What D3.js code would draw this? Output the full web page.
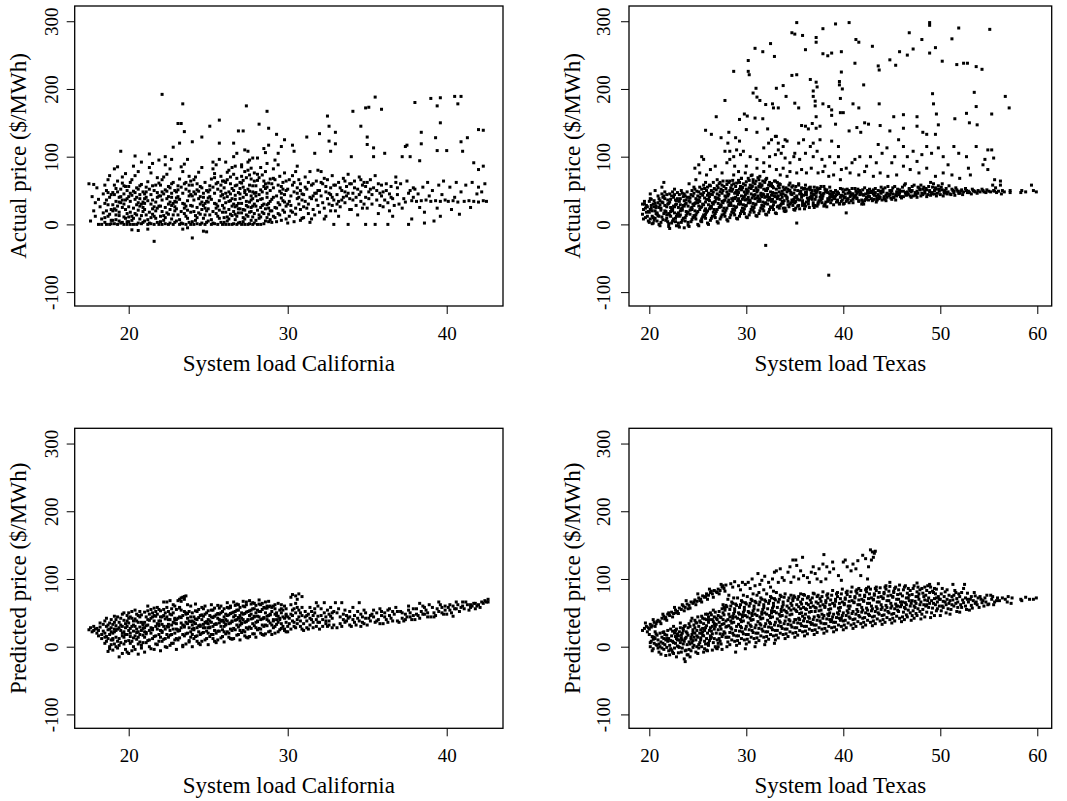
<!DOCTYPE html>
<html><head><meta charset="utf-8">
<script src="https://cdn.jsdelivr.net/npm/d3@7"></script>
<style>body{margin:0;background:#fff}svg{display:block}</style>
</head><body><svg id="c" width="1067" height="801"></svg>
<script>
const caTicks=[20,30,40];
const txTicks=[20,30,40,50,60];
const priceTicks=[-100,0,100,200,300];
const caLabel="System load California", txLabel="System load Texas";
const actLabel="Actual price ($/MWh)", predLabel="Predicted price ($/MWh)";
// Point arrays: flattened pairs [system load in tenths, price $/MWh]
const caActual=[
175,60,178,59,177,41,179,32,176,5,180,54,178,20,179,12,181,0,183,0,182,26,184,45,183,8,181,37,184,17,
186,0,188,0,185,3,187,12,189,22,185,31,188,40,186,50,189,6,187,29,185,58,188,15,186,36,189,44,187,66,188,72,186,20,189,1,185,10,187,47,
193,0,197,0,191,1,199,0,195,2,190,6,198,9,192,14,196,3,194,18,191,23,197,11,193,27,199,16,195,32,190,20,198,36,192,7,196,25,194,40,191,44,197,30,193,48,199,38,195,52,190,29,198,56,192,34,196,61,194,13,191,58,197,45,193,64,199,50,195,41,190,47,198,22,192,53,196,70,194,5,195,108,191,82,198,75,193,85,196,36,199,4,192,21,197,57,194,33,
201,0,205,0,208,1,203,0,200,4,207,8,202,12,209,3,204,16,206,21,200,26,203,9,208,30,201,34,205,14,207,38,202,43,209,19,204,47,206,52,200,56,203,24,208,59,201,62,205,29,207,44,202,6,209,33,204,37,206,2,200,41,203,49,208,13,201,18,205,54,207,27,202,66,209,48,204,72,206,78,203,86,208,92,204,101,202,-8,206,-9,205,40,200,11,207,57,209,25,201,46,206,32,
212,0,216,0,219,0,214,1,210,5,217,9,211,14,218,3,213,18,215,23,219,27,210,31,216,12,212,35,218,40,214,44,211,48,217,20,213,52,215,57,219,61,210,38,216,26,212,7,218,47,214,30,211,55,217,33,213,2,215,15,219,42,210,22,216,50,212,63,218,69,214,76,213,84,215,90,213,104,216,-25,212,-7,219,95,211,40,217,58,214,10,218,24,210,45,215,36,
221,0,225,0,228,0,223,1,220,4,227,8,222,13,229,3,224,17,226,22,220,27,223,10,228,31,221,36,225,15,227,40,222,45,229,20,224,49,226,54,220,58,223,25,228,62,221,66,225,30,227,46,222,6,229,34,224,38,226,2,220,42,223,51,228,14,221,19,225,56,227,28,222,70,229,50,224,74,226,82,223,88,227,96,221,192,223,100,228,114,225,41,220,12,227,60,229,26,221,48,226,33,
232,0,236,0,239,0,234,1,230,5,237,9,231,14,238,3,233,19,235,24,239,28,230,33,236,12,232,37,238,42,234,46,231,51,237,21,233,55,235,60,239,64,230,39,236,27,232,7,238,49,234,31,231,57,237,35,233,2,235,16,239,44,230,23,236,52,232,67,238,71,234,78,233,85,235,89,237,96,232,120,234,178,231,149,233,149,235,137,234,-7,237,-5,231,41,236,62,239,18,230,48,235,30,238,58,
241,0,245,0,248,0,243,1,240,4,247,9,242,13,249,3,244,17,246,22,240,27,243,10,248,31,241,36,245,15,247,40,242,45,249,20,244,49,246,54,240,58,243,25,248,62,241,66,245,30,247,46,242,6,249,34,244,38,246,2,240,42,243,51,248,14,241,19,245,56,247,28,242,70,249,50,244,77,246,84,240,122,246,129,240,-20,249,-11,247,-10,245,41,243,60,248,24,241,48,246,33,
252,0,256,0,259,0,254,1,250,5,257,9,251,14,258,3,253,19,255,24,259,28,250,33,256,12,252,37,258,42,254,46,251,51,257,21,253,55,255,60,259,64,250,39,256,27,252,7,258,49,254,31,251,57,257,35,253,2,255,16,259,44,250,23,256,52,252,67,258,71,254,75,253,82,255,88,257,96,251,145,257,154,257,120,253,92,251,41,256,62,259,18,250,48,255,30,258,58,254,69,
261,0,265,0,268,0,263,0,260,3,267,7,262,11,269,2,264,15,266,19,260,24,263,8,268,28,261,32,265,13,267,37,262,41,269,17,264,45,266,50,260,54,263,22,268,58,261,62,265,27,267,43,262,5,269,31,264,35,266,1,260,39,263,48,268,12,261,18,265,53,267,26,262,66,269,47,264,70,266,74,263,80,267,86,261,92,266,100,268,105,266,120,269,138,265,38,260,10,267,57,269,23,261,46,266,30,264,60,262,77,268,68,263,34,265,84,260,64,267,15,
271,0,275,0,278,0,273,0,270,3,277,6,272,10,279,2,274,14,276,18,270,23,273,8,278,27,271,31,275,12,277,36,272,40,279,16,274,44,276,49,270,53,273,21,278,57,271,61,275,26,277,42,272,4,279,30,274,34,276,1,270,38,273,47,278,11,271,17,275,52,277,25,272,65,279,46,274,69,276,73,273,78,277,83,271,88,275,92,278,98,273,110,275,108,272,138,274,175,270,45,276,58,279,64,271,71,275,80,278,38,272,55,277,67,274,28,276,33,270,62,279,76,273,50,277,19,271,85,276,95,278,48,272,22,
281,0,285,1,288,4,283,0,280,6,287,10,282,14,289,7,284,18,286,23,280,27,283,11,288,31,281,35,285,16,287,40,282,44,289,20,284,48,286,53,280,57,283,25,288,61,281,65,285,30,287,46,282,9,289,34,284,38,286,5,280,42,283,51,288,15,281,21,285,56,287,29,282,69,289,50,284,73,286,78,283,84,287,90,281,98,286,106,288,117,282,148,287,167,288,142,285,112,280,47,286,60,289,67,281,74,284,28,287,55,283,37,288,24,285,64,
290,3,293,4,296,6,299,8,291,12,294,16,297,21,292,25,295,29,298,33,290,37,293,42,296,46,299,50,291,54,294,58,297,62,292,66,295,71,298,76,291,82,294,88,292,95,294,105,293,133,298,125,296,115,290,20,295,14,297,35,299,27,291,40,296,56,293,24,298,44,290,60,295,49,292,10,297,52,294,32,299,64,296,39,291,68,298,18,
300,2,304,4,308,6,301,12,303,18,305,24,307,30,309,36,302,42,304,48,306,54,308,60,301,66,303,72,305,78,303,117,304,108,306,86,302,28,306,38,309,45,300,52,305,15,308,22,303,58,307,66,301,34,309,9,306,46,302,20,307,40,300,30,304,62,308,50,
310,10,313,16,316,22,319,28,311,34,314,40,317,46,312,52,315,58,318,64,311,70,314,78,312,129,317,105,315,8,318,36,310,44,313,30,316,60,319,50,312,24,317,14,314,3,319,80,316,42,311,55,318,46,313,62,315,38,310,26,
320,134,325,160,326,145,326,123,327,108,320,18,323,24,326,30,329,36,321,42,324,48,327,54,322,60,325,66,328,72,321,78,329,0,324,12,328,40,322,32,326,46,329,58,323,8,327,20,320,50,325,38,328,28,321,62,324,56,327,44,323,68,
330,136,330,119,330,20,333,26,336,32,339,38,331,44,334,50,337,56,332,62,335,68,338,74,338,0,334,36,337,42,331,30,339,60,332,12,336,48,339,22,333,54,335,40,338,46,330,58,336,64,332,34,
341,167,346,145,349,172,340,100,340,22,343,28,346,34,349,40,341,46,344,52,347,58,342,64,345,70,348,30,349,0,343,40,346,48,341,36,348,62,344,14,347,24,342,54,345,44,349,56,340,60,346,66,
351,173,355,188,359,170,350,129,350,118,354,113,354,100,350,24,353,30,356,36,359,42,351,48,354,54,357,60,352,66,355,0,358,28,351,38,356,50,359,58,353,44,357,16,355,72,352,52,358,46,350,62,
361,105,363,0,360,26,363,32,366,38,369,44,362,50,365,56,368,62,361,36,364,45,367,28,369,54,364,20,368,70,366,12,360,48,365,40,362,60,
372,100,374,115,375,117,377,100,376,0,378,8,370,30,373,38,376,46,379,54,371,60,374,33,378,35,372,24,375,64,379,40,377,50,
380,180,384,136,384,119,383,94,386,2,381,34,384,35,387,36,382,45,385,55,388,62,383,25,389,42,386,18,380,52,
390,186,394,175,396,187,396,150,393,128,394,109,400,109,392,5,396,12,390,34,393,35,396,34,399,36,391,50,395,58,398,64,394,24,397,44,
405,189,407,178,409,189,409,122,410,108,401,34,404,35,407,33,402,55,406,62,409,48,403,22,408,15,405,40,
413,128,417,91,420,140,423,139,423,86,420,81,411,34,414,35,417,34,420,33,423,35,412,58,416,62,420,55,424,60,415,25,419,45,422,48,425,34
];
const txActual=[
193,15,194,22,195,30,196,10,197,18,198,26,199,5,195,34,198,12,196,24,194,8,197,28,199,19,193,30,
200,3,204,10,208,17,202,24,206,31,201,38,205,6,209,13,203,20,207,27,200,34,204,2,208,15,202,28,206,9,201,22,205,35,209,42,203,12,207,25,200,18,204,30,208,5,202,37,206,20,201,8,205,26,209,32,203,1,207,16,201,45,206,50,
210,0,214,7,218,14,212,21,216,28,211,35,215,42,219,4,213,11,217,18,210,25,214,32,218,9,212,24,216,38,211,-2,215,16,219,30,213,45,217,19,215,62,213,55,210,12,214,40,218,26,212,3,216,20,211,29,219,36,217,6,213,33,218,44,210,38,216,48,
220,-3,224,5,228,12,222,19,226,26,221,33,225,40,229,47,223,2,227,9,220,16,224,23,228,30,222,37,226,44,221,-6,225,8,229,15,223,22,227,29,220,1,224,20,228,35,222,12,226,52,221,14,225,27,229,38,223,42,227,4,220,31,224,48,228,-2,222,25,226,17,221,45,227,36,
230,-2,234,6,238,13,232,20,236,27,231,34,235,41,239,48,233,3,237,10,230,17,234,24,238,31,232,38,236,45,231,-4,235,9,239,16,233,23,237,30,230,2,234,21,238,36,232,14,236,-5,231,44,235,28,239,40,233,50,237,5,230,25,234,46,238,19,232,29,236,35,231,12,237,42,
240,-1,244,7,248,14,242,21,246,28,241,35,245,42,249,49,243,4,247,11,240,18,244,25,248,32,242,39,246,46,241,-3,245,10,249,17,243,24,247,31,240,3,244,22,248,38,242,15,246,55,241,60,248,66,245,30,249,36,243,44,247,52,240,27,244,50,248,8,242,33,246,13,241,40,247,20,
250,0,254,8,258,15,252,22,256,29,251,36,255,43,259,50,253,5,257,12,250,19,254,26,258,33,252,40,256,47,251,-2,255,11,259,18,253,25,257,39,250,32,254,4,258,23,252,55,256,58,251,48,258,62,255,30,259,37,253,45,257,53,250,42,254,52,258,9,252,34,256,14,251,27,257,20,
260,2,264,9,268,16,262,23,266,30,261,37,265,44,269,51,263,6,267,13,260,20,264,27,268,34,262,41,266,48,261,0,265,12,269,19,263,26,267,33,260,55,264,24,268,40,262,58,266,62,261,46,265,32,269,38,263,45,267,53,260,43,264,50,268,10,262,35,266,18,261,29,267,22,263,57,
270,4,274,11,278,18,272,25,276,32,271,39,275,46,279,53,273,8,277,15,270,22,274,29,278,36,272,43,276,50,271,2,275,14,279,21,273,28,277,35,270,57,274,26,278,42,272,60,276,64,271,54,275,34,279,40,273,48,277,56,270,45,274,52,278,12,272,37,276,20,271,31,277,24,273,62,275,58,
280,7,284,14,288,21,282,28,286,35,281,42,285,49,289,56,283,10,287,17,280,24,284,31,288,38,282,45,286,52,281,5,285,18,289,25,283,32,287,39,280,59,284,28,288,46,282,62,286,65,281,44,285,58,289,40,283,50,287,60,280,48,284,54,288,14,282,36,286,22,281,33,287,27,283,64,285,38,289,47,
290,9,294,16,298,23,292,30,296,37,291,44,295,51,299,58,293,12,297,19,290,26,294,33,298,40,292,47,296,54,291,8,295,20,299,27,293,34,297,41,290,61,294,30,298,48,292,65,296,55,291,48,295,68,299,44,293,52,297,60,290,50,294,56,298,16,292,38,296,24,291,35,297,29,293,62,295,42,299,36,
300,11,304,18,308,25,302,32,306,39,301,46,305,53,309,60,303,14,307,21,300,28,304,35,308,42,302,49,306,56,301,10,305,22,309,29,303,36,307,43,300,63,304,32,308,50,302,68,306,57,301,50,305,72,309,44,303,54,307,62,300,52,304,58,308,18,302,40,306,26,301,37,307,31,303,65,305,45,309,38,
310,13,314,20,318,27,312,34,316,41,311,48,315,55,319,62,313,16,317,23,310,30,314,37,318,44,312,51,316,58,311,12,315,24,319,31,313,38,317,45,310,64,314,34,318,52,312,69,316,58,311,50,315,46,319,40,313,56,317,64,310,54,314,60,318,20,312,42,316,28,311,39,317,33,313,66,315,43,
320,15,324,22,328,29,322,36,326,43,321,50,325,57,329,64,323,18,327,25,320,32,324,39,328,46,322,53,326,60,321,14,325,26,329,33,323,40,327,47,320,66,324,36,328,54,322,44,326,60,321,52,325,48,329,42,323,58,327,56,320,50,324,62,328,22,322,30,326,34,321,41,327,37,
330,17,334,24,338,31,332,38,336,45,331,52,335,59,339,20,333,27,337,34,330,41,334,48,338,55,332,62,336,44,331,16,335,28,339,35,333,42,337,49,330,64,334,54,338,24,332,40,336,30,331,46,335,37,339,51,333,57,337,40,330,33,334,60,338,45,332,26,
340,19,344,26,348,33,342,40,346,47,341,54,345,61,349,22,343,29,347,36,340,43,344,50,348,57,342,38,346,45,341,20,345,30,349,37,343,52,347,44,340,24,344,58,348,35,342,48,346,32,341,42,345,50,349,46,343,34,347,55,340,52,348,28,
350,21,354,28,358,35,352,42,356,49,351,56,355,23,359,30,353,37,357,44,350,51,354,58,358,32,352,39,356,46,351,24,355,36,359,43,353,50,357,40,350,40,354,60,358,28,352,2,356,48,351,34,355,45,359,52,353,27,357,54,350,32,
360,23,364,30,368,37,362,44,366,51,361,58,365,25,369,32,363,39,367,46,360,53,364,34,368,41,362,48,366,55,361,27,365,38,369,45,363,52,367,42,360,30,364,36,368,50,362,33,366,40,361,47,365,54,369,28,
370,25,374,32,378,39,372,46,376,53,371,28,375,35,379,42,373,49,377,56,370,44,374,30,378,38,372,48,376,40,371,50,375,34,379,45,373,27,377,36,370,55,374,52,378,32,372,41,376,47,371,37,377,43,373,54,
380,27,384,34,388,41,382,48,386,55,381,30,385,37,389,44,383,51,387,32,380,46,384,38,388,43,382,50,386,40,381,28,385,36,389,47,383,26,387,42,380,56,384,47,388,36,382,33,386,45,381,52,387,49,
390,29,394,36,398,43,392,50,396,31,391,38,395,45,399,52,393,33,397,40,390,47,394,35,398,42,392,49,396,30,391,39,395,46,399,36,393,44,397,53,390,40,394,48,398,34,392,42,
400,30,404,37,408,44,402,51,406,32,401,39,405,46,409,53,403,34,407,41,400,48,404,36,408,43,402,40,406,50,401,31,405,38,409,45,403,17,407,47,400,42,404,52,408,35,402,45,
410,32,414,39,418,46,412,53,416,34,411,41,415,48,419,36,413,43,417,50,410,45,414,38,418,47,412,42,416,35,411,40,415,52,419,30,413,49,417,44,410,37,414,46,
420,33,424,40,428,47,422,54,426,36,421,43,425,50,429,38,423,45,427,52,420,44,424,40,428,48,422,35,426,42,421,30,425,46,429,49,423,37,427,41,420,51,
430,35,434,42,438,49,432,37,436,44,431,51,435,39,439,46,433,53,437,41,430,48,434,33,438,40,432,43,436,50,431,45,435,36,439,55,433,47,437,38,
440,36,444,43,448,50,442,38,446,45,441,52,445,40,449,47,443,54,447,42,440,49,444,35,448,44,442,41,446,56,441,48,445,46,449,39,443,37,
450,37,454,44,458,51,452,40,456,47,451,54,455,42,459,49,453,56,457,44,450,50,454,36,458,46,452,40,456,52,451,45,455,48,459,41,
460,39,464,46,468,53,462,41,466,48,461,55,465,43,469,50,463,58,467,45,460,40,465,47,468,52,464,60,462,49,466,44,469,42,
470,40,474,47,478,54,472,42,476,49,471,56,475,44,479,51,473,58,477,46,470,48,476,40,479,52,474,43,471,50,477,55,
480,42,484,49,488,56,482,44,486,51,481,46,485,53,489,48,483,55,487,44,480,58,486,41,489,50,484,46,482,52,
490,43,494,50,498,57,492,45,496,52,491,47,495,54,499,49,493,60,497,46,490,62,496,42,499,52,494,45,492,55,
500,44,502,51,504,46,506,53,508,48,501,55,503,42,505,50,507,45,509,57,502,60,506,47,504,49,
510,45,512,52,514,47,516,54,518,49,511,44,513,50,515,43,517,51,519,46,514,49,
520,46,522,51,524,48,526,53,528,47,523,44,527,50,529,49,521,49,
530,47,533,52,536,48,539,50,532,45,535,49,538,46,534,50,
541,48,544,50,547,47,550,49,543,52,548,51,545,48,
552,48,555,50,558,47,554,58,557,54,556,49,
560,49,562,58,563,45,566,48,564,50,
572,50,572,47,583,47,584,50,588,48,594,58,596,50,599,48,
254,100,256,96,251,88,247,83,252,76,259,73,263,81,268,86,270,66,275,76,
280,91,283,96,287,100,290,110,294,103,297,108,283,108,278,108,281,120,288,86,292,78,299,76,300,86,287,73,280,64,295,68,
304,100,311,96,318,91,324,100,330,103,333,110,336,105,340,98,345,91,349,100,350,105,318,113,323,120,326,125,330,130,333,120,338,115,342,123,311,83,318,78,324,86,331,81,338,83,345,78,306,73,314,71,321,68,335,73,342,71,352,76,307,66,
355,96,361,105,366,115,369,100,373,108,378,96,381,86,386,100,391,91,395,100,398,81,357,81,362,76,367,83,374,76,379,78,385,71,390,73,397,66,354,120,359,125,369,120,376,125,388,123,395,115,
403,83,409,91,412,96,417,100,424,86,428,100,434,91,440,105,445,113,450,91,453,100,407,76,416,73,422,78,431,71,438,76,446,71,455,73,436,118,
457,125,462,115,466,100,472,108,476,93,481,103,486,115,491,105,498,113,503,100,508,88,514,115,519,105,462,86,469,81,478,76,486,83,495,71,503,76,512,73,520,68,
527,100,529,83,531,73,537,115,544,88,546,96,549,110,553,110,555,98,556,66,562,64,549,81,
352,298,406,298,392,296,489,298,489,294,519,290,551,288,379,289,347,283,350,281,358,279,468,283,372,276,372,269,481,273,512,274,413,273,416,269,325,267,309,260,317,255,329,248,361,258,379,252,384,249,388,253,398,255,430,263,458,255,466,250,472,259,495,261,489,253,302,242,448,243,454,235,436,234,437,228,412,238,502,241,517,236,524,238,528,238,537,233,543,229,
287,226,302,226,303,221,347,220,352,221,398,225,366,214,396,211,396,206,372,210,373,203,331,201,338,205,310,201,399,200,307,194,369,197,421,206,492,193,535,195,311,188,314,183,341,189,369,189,397,186,567,189,278,183,
320,177,327,178,328,172,333,172,350,179,354,172,371,182,371,175,385,174,388,169,379,178,410,178,416,172,437,178,493,178,537,174,571,172,298,163,301,160,317,156,372,159,388,161,397,165,400,165,452,159,462,162,476,159,496,163,515,156,527,164,553,163,269,159,293,155,
322,141,361,145,364,141,357,146,368,149,372,142,376,145,392,148,406,138,414,143,418,136,422,150,426,148,438,146,448,138,462,142,476,145,498,147,530,150,538,147,482,136,486,133,495,133,258,139,264,133,274,128,282,136,289,128,293,123,300,140,311,136,331,130,340,125,309,157,
320,-31,385,-75
];
const caPred=[
175,25,176,28,177,22,178,30,179,26,180,20,181,24,182,29,183,18,184,33,180,27,183,12,184,23,178,24,182,35,181,16,
185,5,186,15,187,25,188,35,189,10,185,20,186,30,187,-7,188,0,189,40,186,8,188,18,189,28,185,38,187,12,189,22,186,42,188,-3,187,32,185,14,189,3,188,26,
190,-5,194,2,198,8,192,14,196,20,191,26,195,32,199,38,193,44,197,50,194,-15,190,12,198,18,192,24,196,30,191,36,195,42,199,46,193,-2,197,4,190,10,194,28,198,34,192,40,196,16,191,22,199,-8,195,6,197,14,193,26,190,20,196,48,198,28,192,0,194,36,199,18,191,45,195,24,197,39,193,8,190,33,198,-4,196,-10,192,31,194,12,199,30,191,4,197,22,
200,-10,204,-4,208,2,202,8,206,14,201,20,205,26,209,32,203,38,207,44,200,50,204,54,206,-11,202,-6,208,-2,201,5,205,11,209,17,203,23,207,29,200,35,204,41,208,47,202,52,206,4,201,15,205,21,209,27,203,13,207,18,200,24,204,30,208,36,202,42,206,46,203,0,207,7,209,34,205,38,201,27,200,9,204,16,208,24,202,30,206,36,201,44,205,48,209,6,203,32,207,52,200,42,206,22,
210,-8,214,-3,218,3,212,9,216,15,211,21,215,27,219,33,213,39,217,45,210,51,214,55,218,58,212,60,216,57,211,6,215,12,219,18,213,24,217,30,210,36,214,42,218,48,212,53,216,-4,211,19,215,25,219,31,213,10,217,16,210,22,214,28,218,34,212,40,216,46,213,0,217,4,219,38,215,44,211,31,219,55,210,14,214,20,218,26,212,32,216,38,211,44,215,50,219,8,213,48,217,52,210,28,
220,-6,224,-1,228,5,222,11,226,17,221,23,225,29,229,35,223,41,227,47,220,53,224,58,228,62,222,66,226,68,221,8,225,14,229,20,223,26,227,32,220,38,224,44,228,50,222,55,226,2,221,21,225,33,229,42,223,12,227,18,220,24,224,30,228,36,222,46,226,48,223,0,227,5,229,40,225,52,221,33,229,60,224,66,220,14,224,18,228,26,222,30,226,40,221,44,225,40,229,10,223,50,227,56,220,44,226,24,
230,-4,234,2,238,7,232,13,236,19,231,25,235,31,239,37,233,43,237,49,230,55,231,68,232,70,233,72,234,73,235,74,236,75,235,70,233,67,237,62,239,60,231,10,235,16,239,22,233,28,237,34,230,40,234,46,238,52,232,57,236,4,231,23,235,29,239,14,233,35,237,20,230,26,234,32,238,38,232,44,236,50,234,0,238,9,232,58,236,48,230,12,234,18,238,28,232,24,236,36,231,42,235,52,239,44,233,54,237,42,230,34,
240,0,244,5,248,10,242,15,246,20,241,25,245,30,249,35,243,40,247,45,240,50,244,55,248,60,242,63,246,58,241,12,245,18,249,23,243,28,247,33,240,38,244,43,248,48,242,53,246,8,241,27,245,32,249,37,243,16,247,21,240,26,244,31,248,36,242,41,246,47,245,3,249,12,243,52,247,56,241,44,240,18,244,22,248,28,242,34,246,40,241,36,245,46,249,50,243,8,247,28,240,32,
250,3,254,8,258,13,252,18,256,23,251,28,255,33,259,38,253,43,257,48,250,53,254,57,258,60,252,62,256,61,251,15,255,20,259,25,253,30,257,35,250,40,254,45,258,50,252,54,256,10,251,29,255,34,259,39,253,18,257,23,250,28,254,33,258,38,252,44,256,49,255,6,259,15,253,54,257,57,251,46,250,20,254,24,258,30,252,36,256,42,251,38,255,47,259,52,253,12,257,40,250,34,
260,7,264,12,268,17,262,22,266,27,261,32,265,37,269,42,263,47,267,52,260,56,264,60,268,63,262,65,266,66,261,19,265,24,269,29,263,34,267,39,260,44,264,49,268,54,262,58,266,12,261,33,265,38,269,43,263,20,267,25,260,30,264,35,268,40,262,46,266,51,265,11,269,18,263,57,267,61,261,48,269,62,260,22,264,26,268,32,262,38,266,44,261,40,265,50,269,54,263,14,267,46,260,36,264,58,
270,10,274,14,278,19,272,24,276,29,271,34,275,39,279,44,273,49,277,54,270,58,274,62,278,65,272,67,276,68,271,21,275,26,279,31,273,36,277,41,270,46,274,51,278,56,272,60,276,15,271,35,275,40,279,45,273,22,277,27,270,32,274,37,278,42,272,48,276,53,275,13,279,19,273,59,277,63,271,50,279,64,270,24,274,28,278,34,272,40,276,46,271,42,275,52,279,56,273,16,277,48,270,38,274,66,
280,14,284,18,288,22,282,27,286,32,281,37,285,42,289,47,283,52,287,57,280,61,284,64,288,67,282,69,286,66,281,25,285,30,289,35,283,40,287,45,280,50,284,55,288,59,282,63,286,19,281,38,285,43,289,48,283,26,287,31,280,36,284,41,288,46,282,52,286,57,285,17,289,23,283,62,287,60,281,45,280,28,284,32,288,38,282,44,286,50,281,54,285,58,289,60,283,20,287,40,
290,18,294,22,298,26,292,30,296,34,291,38,295,42,299,46,293,50,297,54,290,58,292,62,294,64,296,62,298,60,291,28,293,33,295,40,297,44,299,48,290,52,292,56,294,45,296,50,298,24,291,40,293,46,295,54,297,30,299,36,292,20,296,27,299,22,290,32,294,36,298,42,292,48,296,56,291,60,295,25,299,56,293,40,
300,22,302,26,304,30,306,34,308,38,301,42,303,46,305,50,307,54,309,58,302,62,305,64,301,34,303,38,305,28,307,44,309,26,302,48,304,56,306,40,308,50,302,73,303,77,305,75,307,78,309,74,306,70,300,44,304,36,308,30,306,58,300,30,309,46,303,54,
310,24,312,28,314,32,316,36,318,40,311,44,313,48,315,52,317,56,319,60,310,34,312,38,314,42,316,46,318,30,313,26,317,50,319,45,315,40,318,65,311,52,314,58,316,28,319,36,312,46,
320,26,322,30,324,34,326,38,328,42,321,46,323,50,325,54,327,58,329,32,320,36,322,40,324,44,326,48,328,28,323,65,329,52,325,30,327,45,330,65,321,56,324,38,328,50,326,32,
331,28,333,34,335,40,337,46,339,52,332,56,334,30,336,36,338,42,334,65,339,32,340,30,342,36,344,42,346,48,348,54,341,58,343,32,345,38,347,44,349,50,345,65,342,46,348,34,335,48,346,30,333,44,337,38,331,50,339,44,341,40,344,52,347,36,349,42,336,54,
350,32,352,38,354,44,356,50,358,56,351,42,353,48,355,36,357,40,359,46,360,34,362,40,364,46,366,52,368,58,361,50,363,36,365,42,367,48,369,38,354,54,364,56,358,34,369,52,352,46,356,38,361,44,366,38,359,52,363,54,
370,36,372,42,374,48,376,54,378,40,371,52,373,38,375,44,377,50,379,56,380,40,382,46,384,52,386,58,388,44,381,56,383,42,385,48,387,54,389,62,376,60,383,64,379,46,388,50,374,40,386,48,372,50,381,48,377,44,385,60,
390,44,392,50,394,56,396,62,398,48,391,58,393,46,395,52,397,58,399,54,400,48,402,54,404,60,406,66,408,52,401,58,403,50,405,56,407,62,409,58,395,66,404,45,410,60,392,44,397,50,402,62,406,56,399,60,
411,56,413,62,415,58,417,64,419,60,412,66,414,54,416,60,418,56,420,62,422,66,424,68,426,70,421,58,423,64,425,66,410,66,426,66,418,64,415,62
];
const txPred=[
193,24,195,27,197,30,199,28,201,33,203,31,205,36,207,34,209,39,211,37,213,42,215,45,217,43,219,48,221,46,223,51,225,49,227,54,229,52,231,57,233,55,235,60,237,58,239,63,241,61,243,66,245,64,247,69,249,67,251,72,253,70,255,75,257,73,259,78,261,76,263,80,265,78,267,83,269,81,271,85,273,83,275,88,277,86,279,91,200,26,206,30,212,34,218,39,224,44,230,49,236,53,242,57,248,62,254,66,260,70,266,73,272,78,278,82,196,35,204,40,214,48,226,58,238,68,250,78,262,85,274,92,198,22,202,29,208,37,216,41,220,50,228,50,234,62,240,56,246,66,252,68,258,74,264,82,270,80,276,90,
201,0,202,8,203,15,204,-3,205,5,206,12,207,19,208,2,209,10,200,18,203,-6,206,22,209,-2,205,14,201,6,207,3,204,11,208,17,
210,-8,211,0,212,7,213,14,214,21,215,-4,216,3,217,10,218,17,219,24,212,-11,215,12,218,-1,211,20,214,5,217,-13,213,-2,216,18,219,8,210,4,215,22,218,12,
220,-6,221,2,222,9,223,16,224,23,225,-10,226,-2,227,5,228,12,229,19,222,26,225,30,228,-15,221,-12,224,8,227,15,229,1,223,-5,220,12,226,20,228,26,222,-3,225,6,229,10,224,-8,227,24,
230,-9,231,-1,232,6,233,13,234,20,235,27,236,-18,237,-22,238,-5,239,3,231,10,233,17,235,24,237,31,239,-12,232,35,234,-2,236,8,238,14,230,0,231,22,233,-8,235,4,237,12,239,20,232,28,234,10,236,30,238,22,230,16,237,-6,
240,-12,241,-4,242,4,243,11,244,18,245,25,246,32,247,39,248,-8,249,0,241,7,243,14,245,21,247,28,249,35,242,-15,244,42,246,2,248,10,240,17,245,-1,249,24,242,30,244,6,246,14,248,36,240,28,243,-6,247,20,241,34,245,9,249,16,243,38,
250,-10,251,-2,252,6,253,13,254,20,255,27,256,34,257,41,258,48,259,-5,251,3,253,10,255,17,257,24,259,31,252,38,254,45,256,-8,258,4,250,14,255,22,259,40,251,30,253,36,257,8,250,44,254,0,256,16,258,28,252,20,255,42,257,-3,259,12,253,25,
260,-6,261,2,262,9,263,16,264,23,265,30,266,37,267,44,268,51,269,-2,261,5,263,12,265,19,267,26,269,33,262,40,264,47,266,54,268,0,260,20,265,-5,269,42,263,28,261,36,264,14,266,6,268,30,260,48,262,24,267,12,269,20,263,50,265,40,261,44,267,34,
270,-3,271,5,272,12,273,19,274,26,275,33,276,40,277,47,278,54,279,61,271,0,273,8,275,15,277,22,279,29,272,36,274,43,276,50,278,57,270,10,275,-4,279,38,273,30,276,62,271,46,274,4,277,34,279,14,272,52,270,40,275,56,278,20,273,44,276,18,271,25,277,58,
280,0,281,7,282,14,283,21,284,28,285,35,286,42,287,49,288,56,289,63,281,70,283,3,285,10,287,17,289,24,282,31,284,38,286,45,288,52,280,59,285,66,289,-8,283,44,287,72,284,93,288,96,286,88,280,30,282,48,284,60,286,20,288,8,281,40,283,55,285,26,287,36,289,44,280,14,286,64,282,76,
290,2,291,9,292,16,293,23,294,30,295,37,296,44,297,51,298,58,299,65,291,72,293,5,295,12,297,19,299,26,292,33,294,40,296,47,298,54,290,61,295,68,299,-3,293,48,297,76,292,90,296,95,299,92,290,30,292,50,294,62,296,22,298,10,291,42,293,58,295,28,297,38,299,46,290,16,296,66,294,84,
300,4,301,11,302,18,303,25,304,32,305,39,306,46,307,53,308,60,309,67,301,74,303,7,305,14,307,21,309,28,302,35,304,42,306,49,308,56,300,63,305,70,309,0,303,50,307,78,302,95,306,100,309,90,300,30,302,52,304,64,306,24,308,12,301,44,303,60,305,30,307,40,309,48,300,18,306,68,304,86,
310,6,311,13,312,20,313,27,314,34,315,41,316,48,317,55,318,62,319,69,311,76,313,9,315,16,317,23,319,30,312,37,314,44,316,51,318,58,310,65,315,72,319,3,313,80,312,108,316,98,319,104,314,92,310,32,312,54,314,66,316,26,318,14,311,46,313,62,315,32,317,42,319,50,310,20,316,70,318,84,
320,8,321,15,322,22,323,29,324,36,325,43,326,50,327,57,328,64,329,71,321,78,323,11,325,18,327,25,329,32,322,39,324,46,326,53,328,60,320,67,325,74,329,5,323,95,327,100,329,110,325,88,320,34,322,56,324,68,326,28,328,16,321,48,323,64,325,34,327,44,329,52,320,22,326,72,328,82,
330,10,331,17,332,24,333,31,334,38,335,45,336,52,337,59,338,66,339,73,331,80,333,13,335,20,337,27,339,34,332,41,334,48,336,55,338,62,330,69,335,76,333,95,337,102,331,112,339,98,335,115,330,36,332,58,334,70,336,30,338,18,331,50,333,66,335,36,337,46,339,54,330,24,336,74,
340,12,341,19,342,26,343,33,344,40,345,47,346,54,347,61,348,68,349,75,341,44,343,15,345,22,347,29,349,36,342,50,344,57,346,64,348,71,340,78,346,95,349,103,343,110,348,128,345,118,340,38,342,60,344,72,346,32,348,20,341,52,343,68,345,38,347,48,349,56,340,26,346,76,
350,14,351,21,352,28,353,35,354,42,355,49,356,56,357,63,358,70,359,77,351,40,353,17,355,24,357,31,359,38,352,52,354,59,356,66,358,45,350,73,351,128,358,132,354,100,356,112,359,105,352,120,350,40,352,62,354,74,356,34,358,22,351,54,353,70,355,40,357,50,359,58,350,28,356,78,
360,16,361,23,362,30,363,37,364,44,365,51,366,58,367,65,368,72,369,79,361,48,363,19,365,26,367,33,369,40,362,55,364,62,366,69,368,34,360,76,363,102,367,110,365,95,369,118,360,42,362,64,364,74,366,36,368,24,361,56,363,72,365,42,367,52,369,60,360,30,
370,18,371,25,372,32,373,39,374,46,375,53,376,60,377,67,378,74,379,81,371,52,373,21,375,28,377,35,379,42,372,57,374,64,376,71,378,48,370,78,371,108,375,115,379,122,373,100,377,96,370,44,372,66,374,76,376,38,378,26,371,58,373,74,375,44,377,54,379,62,370,32,
380,20,381,27,382,34,383,41,384,48,385,55,386,62,387,69,388,76,389,83,381,58,383,23,385,30,387,37,389,44,382,65,384,72,386,50,388,40,380,136,383,118,386,110,389,125,382,100,380,46,382,68,384,78,386,40,388,28,381,60,383,76,385,46,387,56,389,64,380,34,
390,22,391,29,392,36,393,43,394,50,395,57,396,64,397,71,398,78,399,85,391,60,393,25,395,32,397,39,399,46,392,67,394,74,396,53,398,42,390,115,395,105,398,98,390,48,392,70,394,80,396,42,398,30,391,62,393,78,395,48,397,58,399,66,390,36,
400,25,401,32,402,39,403,46,404,53,405,60,406,67,407,74,408,81,409,88,401,62,403,28,405,35,407,42,409,49,402,70,404,77,406,56,400,125,404,118,408,112,402,128,400,50,402,72,404,82,406,44,408,32,401,64,403,80,405,50,407,60,409,68,400,38,
410,27,411,34,412,41,413,48,414,55,415,62,416,69,417,76,418,83,419,58,411,65,413,30,415,37,417,44,419,51,412,72,414,79,416,86,410,122,415,127,418,105,413,115,410,52,412,74,414,84,416,46,418,34,411,66,413,82,415,52,417,62,419,70,410,40,
420,29,421,36,422,43,423,50,424,57,425,64,426,71,427,78,428,85,429,60,421,67,423,32,425,39,427,46,429,53,422,74,424,81,426,88,420,135,423,130,428,143,426,118,429,128,425,100,420,54,422,76,424,86,426,48,428,36,421,68,423,84,425,54,427,64,429,72,420,42,
430,31,431,38,432,45,433,52,434,59,435,66,436,73,437,80,438,87,439,62,431,69,433,34,435,41,437,48,439,55,432,76,434,83,430,140,432,138,433,141,431,132,430,56,432,78,434,88,436,50,438,38,431,70,433,86,435,56,437,66,439,74,430,44,
440,33,441,40,442,47,443,54,444,61,445,68,446,75,447,82,448,89,449,64,441,71,443,36,445,43,447,50,449,57,442,78,444,85,448,95,440,58,442,80,444,90,446,52,448,40,441,72,443,88,445,58,447,68,449,76,440,46,
450,35,451,42,452,49,453,56,454,63,455,70,456,77,457,84,458,91,459,66,451,73,453,38,455,45,457,52,459,59,452,80,456,60,450,60,452,82,454,88,456,54,458,42,451,74,453,86,455,60,457,70,459,78,450,48,
460,37,461,44,462,51,463,58,464,65,465,72,466,79,467,86,468,68,469,60,461,75,463,40,465,47,467,54,469,83,464,90,460,62,462,84,464,56,466,44,468,76,461,66,463,88,465,62,467,72,469,50,
470,39,471,46,472,53,473,60,474,67,475,74,476,81,477,88,478,70,479,62,471,77,473,42,475,49,477,56,479,84,476,94,470,64,472,86,474,58,476,46,478,78,471,68,473,90,475,64,477,74,479,52,
480,41,481,48,482,55,483,62,484,69,485,76,486,83,487,90,488,72,489,64,482,79,484,44,486,51,488,58,489,92,480,66,481,86,483,74,485,60,487,68,489,80,484,88,486,62,
490,43,491,50,492,57,493,64,494,71,495,78,496,85,497,66,498,74,499,60,492,82,494,46,496,53,498,93,490,88,491,68,493,80,495,62,497,56,499,70,494,86,496,72,
500,46,501,53,502,60,503,67,504,74,505,81,506,62,507,70,508,56,509,76,502,86,506,50,509,64,500,70,503,58,505,66,507,84,501,78,
510,48,511,55,512,62,513,69,514,76,515,83,516,64,517,71,518,58,519,78,513,92,517,52,510,68,512,74,514,60,516,80,518,66,
520,51,522,58,524,65,526,72,528,79,521,62,523,69,525,92,527,55,529,66,524,86,520,74,522,80,526,60,528,70,
530,54,532,61,534,68,536,75,538,62,531,70,533,57,535,80,537,66,539,72,532,74,536,64,
540,58,543,65,546,72,549,62,542,70,545,60,548,76,541,74,547,66,544,68,
550,63,553,70,556,66,559,72,552,76,555,62,558,68,554,74,
561,68,564,72,567,70,570,74,573,64,574,72,569,66,
583,70,584,68,588,73,592,70,596,70,599,72
];

const LOAD_UNIT=0.1;
const priceDomain=[-120.5,322.5];
const panels=[
 {pts:caActual, ticks:caTicks, xd:[16.604,43.54], x0:74.7, x1:503,   y0:6,     xl:caLabel, yl:actLabel,  tickBase:58.5, titleBase:26},
 {pts:txActual, ticks:txTicks, xd:[17.907,61.485],x0:629,  x1:1051.7,y0:6,     xl:txLabel, yl:actLabel,  tickBase:610,  titleBase:580},
 {pts:caPred,   ticks:caTicks, xd:[16.604,43.54], x0:74.7, x1:503,   y0:428.3, xl:caLabel, yl:predLabel, tickBase:58.5, titleBase:26},
 {pts:txPred,   ticks:txTicks, xd:[17.907,61.485],x0:629,  x1:1051.7,y0:428.3, xl:txLabel, yl:predLabel, tickBase:610,  titleBase:580}
];
const H=300, DOT=3, FONT='"Liberation Serif","Times New Roman",Times,serif';
const svg=d3.select("#c");
panels.forEach(p=>{
  const g=svg.append("g");
  const x=d3.scaleLinear().domain(p.xd).range([p.x0,p.x1]);
  const y=d3.scaleLinear().domain(priceDomain).range([p.y0+H,p.y0]);
  const data=d3.range(0,p.pts.length,2).map(i=>[p.pts[i]*LOAD_UNIT,p.pts[i+1]]);
  g.append("g").selectAll("rect").data(data).join("rect")
    .attr("x",d=>x(d[0])-DOT/2).attr("y",d=>y(d[1])-DOT/2)
    .attr("width",DOT).attr("height",DOT).attr("fill","#000");
  g.append("rect").attr("x",p.x0).attr("y",p.y0).attr("width",p.x1-p.x0).attr("height",H)
    .attr("fill","none").attr("stroke","#000").attr("stroke-width",1.3);
  const gx=g.append("g").attr("transform",`translate(0,${p.y0+H})`)
    .call(d3.axisBottom(x).tickValues(p.ticks).tickSize(8).tickFormat(d=>String(d)))
    .attr("font-family",FONT).attr("font-size",19);
  gx.select(".domain").remove();
  gx.selectAll("line").attr("stroke","#000");
  gx.selectAll("text").attr("y",34).attr("dy",0).attr("fill","#000");
  const gy=g.append("g").attr("transform",`translate(${p.x0},0)`)
    .call(d3.axisLeft(y).tickValues(priceTicks).tickSize(8).tickFormat(d=>String(d)))
    .attr("font-family",FONT).attr("font-size",19);
  gy.select(".domain").remove();
  gy.selectAll("line").attr("stroke","#000");
  gy.selectAll("text").attr("x",0).attr("dy",0).attr("text-anchor","middle")
    .attr("transform",`translate(${p.tickBase-p.x0},0) rotate(-90)`).attr("fill","#000");
  g.append("text").attr("x",(p.x0+p.x1)/2).attr("y",p.y0+H+65).attr("text-anchor","middle")
    .attr("font-size",23).attr("font-family",FONT).text(p.xl);
  g.append("text").attr("transform",`translate(${p.titleBase},${p.y0+H/2}) rotate(-90)`)
    .attr("text-anchor","middle").attr("font-size",23).attr("font-family",FONT).text(p.yl);
});
</script></body></html>
